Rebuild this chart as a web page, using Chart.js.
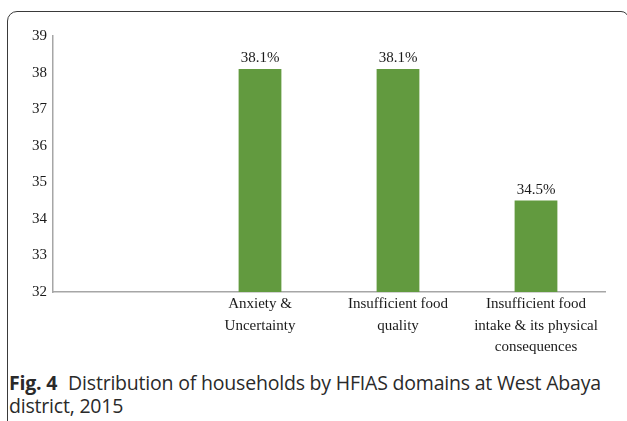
<!DOCTYPE html>
<html>
<head>
<meta charset="utf-8">
<script src="https://cdn.jsdelivr.net/npm/chart.js@4.4.0/dist/chart.umd.min.js"></script>
<style>
  html, body { margin: 0; padding: 0; background: #fff; }
  body { width: 627px; height: 421px; position: relative; overflow: hidden; }
  #frame { position: absolute; left: 7px; top: 11px; width: 622px; height: 440px;
           border: 1.5px solid #3a3a3a; border-radius: 10px 8px 0 0; box-sizing: border-box; }
  #wrap { position: absolute; left: 0; top: 0; width: 627px; height: 365px; }
  #caption { position: absolute; left: 9px; top: 371px; width: 618px; white-space: nowrap;
             font-family: "Open Sans", sans-serif; font-size: 19.5px; line-height: 23px;
             color: #2a2a2a; letter-spacing: -0.2px; }
  #caption b { font-weight: 700; margin-right: 6px; }
</style>
</head>
<body>
<div id="frame"></div>
<div id="wrap"><canvas id="c"></canvas></div>
<div id="caption"><b>Fig. 4</b> Distribution of households by HFIAS domains at West Abaya<br>district, 2015</div>
<script>
const categories = [
  '',
  ['Anxiety &', 'Uncertainty'],
  ['Insufficient food', 'quality'],
  ['Insufficient food', 'intake & its physical', 'consequences']
];
const values = [null, 38.1, 38.1, 34.5];
const valueLabels = ['', '38.1%', '38.1%', '34.5%'];
const yTicks = [32, 33, 34, 35, 36, 37, 38, 39];

const barLabelPlugin = {
  id: 'barLabels',
  afterDatasetsDraw(chart) {
    const ctx = chart.ctx;
    const meta = chart.getDatasetMeta(0);
    ctx.save();
    ctx.font = '15px "Liberation Serif", "Times New Roman", serif';
    ctx.fillStyle = '#1a1a1a';
    ctx.textAlign = 'center';
    ctx.textBaseline = 'bottom';
    meta.data.forEach((bar, i) => {
      if (values[i] == null) return;
      ctx.fillText(valueLabels[i], bar.x, bar.y - 3);
    });
    ctx.restore();
  }
};

new Chart(document.getElementById('c'), {
  type: 'bar',
  data: {
    labels: categories,
    datasets: [{
      data: values,
      backgroundColor: '#629a3f',
      borderWidth: 0,
      barPercentage: 0.62,
      categoryPercentage: 0.5
    }]
  },
  options: {
    responsive: true,
    maintainAspectRatio: false,
    animation: false,
    layout: { padding: { left: 0, right: 22, top: 36, bottom: 0 } },
    plugins: { legend: { display: false }, tooltip: { enabled: false } },
    scales: {
      x: {
        grid: { display: false, drawTicks: false },
        border: { display: true, color: '#a6a6a6', width: 1.5 },
        ticks: {
          padding: 1,
          maxRotation: 0,
          autoSkip: false,
          color: '#1a1a1a',
          font: { family: '"Liberation Serif", "Times New Roman", serif', size: 15, lineHeight: 1.45 }
        },
        afterFit(scale) { scale.height = 73; }
      },
      y: {
        min: 32,
        max: 39,
        afterBuildTicks(scale) { scale.ticks = yTicks.map(v => ({ value: v })); },
        grid: { display: false, drawTicks: false },
        border: { display: true, color: '#a6a6a6', width: 1.5 },
        ticks: {
          padding: 6,
          color: '#1a1a1a',
          font: { family: '"Liberation Serif", "Times New Roman", serif', size: 15 }
        },
        afterFit(scale) { scale.width = 53; }
      }
    }
  },
  plugins: [barLabelPlugin]
});
</script>
</body>
</html>
